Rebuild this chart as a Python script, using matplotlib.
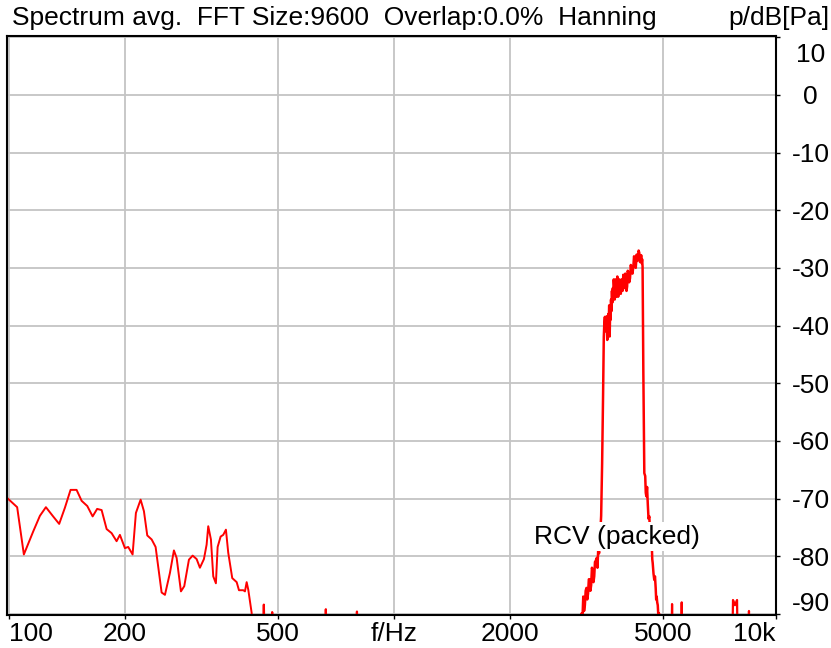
import matplotlib.pyplot as plt
import matplotlib.transforms as mtransforms

# low frequency part of the spectrum (Hz, dB)
low_freq = [97, 98.9, 105.0, 109.3, 115.6, 120.3, 124.7, 130.2, 135.0, 139.7, 144.5,
            149.8, 154.4, 159.7, 164.9, 169.4, 174.0, 179.3, 184.7, 190.3, 194.1,
            200.0, 204.0, 209.4, 213.6, 219.7, 224.1, 228.6, 234.7, 240.3, 249.1,
            254.1, 261.8, 268.1, 272.5, 279.6, 285.2, 293.3, 299.9, 307.1, 313.2,
            320.8, 326.0, 329.2, 334.5, 339.2, 344.6, 348.2, 354.5, 360.1, 365.9,
            371.0, 380.0, 390.2, 395.6, 405.9, 410.0, 414.2, 418.2, 426.7, 432]
low_db = [-66.0, -69.9, -71.5, -79.7, -75.7, -73.0, -71.5, -73.1, -74.4, -71.6, -68.5,
          -68.5, -70.4, -71.3, -73.1, -71.8, -72.0, -75.3, -76.0, -77.4, -76.3,
          -78.6, -78.4, -79.7, -72.5, -70.2, -72.2, -76.4, -77.1, -78.4, -86.3,
          -86.7, -82.9, -79.0, -80.3, -86.1, -85.2, -80.6, -79.9, -80.5, -82.0,
          -80.5, -78.0, -74.8, -77.1, -83.5, -84.7, -78.4, -76.6, -76.3, -75.4,
          -79.4, -83.8, -84.5, -85.9, -85.9, -86.1, -84.5, -85.8, -89.8, -95.0]

# small spikes poking above the floor
spike_freq = [457, 459, 461, 480, 482.5, 485, 662, 665, 668, 798, 801, 804,
              5250, 5272, 5295, 5560, 5585, 5610, 7560, 7590, 7680, 7776, 7800,
              8320, 8350, 8380]
spike_db = [-95, -88.4, -95, -95, -89.7, -95, -95, -89.2, -95, -95, -89.6, -95,
            -95, -88.3, -95, -95, -88.0, -95, -95, -87.6, -88.5, -87.6, -95,
            -95, -89.5, -95]

# the transmitted band
band_freq = [3000, 3071, 3085, 3100, 3115, 3130, 3145, 3160, 3175, 3190, 3205, 3220,
             3235, 3250, 3265, 3280, 3295, 3310, 3325, 3340, 3360, 3375, 3390, 3408,
             3426, 3450, 3470, 3490, 3505, 3516, 3528, 3540, 3553, 3566, 3578, 3590,
             3600, 3610, 3620, 3630, 3640, 3650, 3660, 3670, 3680, 3690, 3700, 3710,
             3720, 3730, 3740, 3750, 3760, 3770, 3780, 3790, 3800, 3810, 3820, 3830,
             3846, 3863, 3880, 3900, 3920, 3939, 3955, 3970, 3985, 4000, 4015, 4030,
             4045, 4060, 4080, 4100, 4120, 4140, 4160, 4182, 4200, 4220, 4243, 4266,
             4283, 4300, 4317, 4334, 4352, 4370, 4383, 4396, 4408, 4420, 4440, 4466,
             4490, 4505, 4520, 4540, 4560, 4580, 4602, 4620, 4640, 4655, 4670, 4683,
             4696, 4718, 4740, 4760, 4780, 4794, 4808, 4824, 4840, 4858, 4876, 4900]
band_db = [-95, -89.9, -91.0, -87.0, -89.5, -88.5, -86.0, -85.5, -87.5, -86.5, -84.0, -84.0,
           -86.0, -85.0, -82.0, -82.5, -84.5, -83.5, -81.0, -80.8, -80.3, -82.0, -78.8, -79.5,
           -77.1, -73.0, -64.0, -52.0, -42.0, -39.6, -38.5, -41.0, -39.5, -38.4, -42.5, -40.5,
           -38.0, -39.2, -36.5, -41.9, -38.0, -39.0, -35.5, -37.5, -34.0, -36.0, -33.5, -34.9,
           -32.0, -33.2, -35.5, -35.0, -32.0, -32.8, -35.0, -34.5, -31.5, -32.5, -35.0, -34.0,
           -32.0, -33.5, -34.5, -32.0, -34.0, -31.2, -33.0, -33.5, -31.0, -32.0, -34.0, -33.2,
           -30.5, -31.0, -32.5, -31.8, -29.5, -30.5, -31.0, -29.8, -28.0, -28.5, -30.0, -27.7,
           -28.8, -28.6, -27.0, -27.4, -29.0, -28.8, -27.8, -29.2, -28.5, -29.8, -48.0, -65.6,
           -66.1, -69.0, -69.6, -68.0, -71.0, -73.5, -73.1, -76.0, -75.4, -77.0, -78.0, -80.5,
           -81.2, -83.0, -84.1, -83.5, -85.5, -87.5, -87.0, -88.0, -88.5, -90.5, -89.9, -95]

x_ticks = [100, 200, 500, 1000, 2000, 5000, 9800]
x_labels = ["100", "200", "500", "f/Hz", "2000", "5000", "10k"]
y_ticks = [10, 0, -10, -20, -30, -40, -50, -60, -70, -80, -90]

plt.rcParams['font.family'] = ['Liberation Sans', 'DejaVu Sans']
fs = 19

fig = plt.figure(figsize=(8.31, 6.48), dpi=100)
ax = fig.add_axes([0.0088, 0.0509, 0.9247, 0.8935])

ax.plot(low_freq, low_db, color='#ff0000', lw=1.4)
ax.plot(spike_freq, spike_db, color='#ff0000', lw=1.6)
ax.plot(band_freq, band_db, color='#ff0000', lw=1.8)

ax.set_xscale('log')
ax.set_xlim(99, 9800)
ax.set_ylim(-90.2, 10.2)

ax.set_xticks(x_ticks)
ax.set_xticklabels(x_labels)
ax.minorticks_off()
ax.set_yticks(y_ticks)
ax.set_yticklabels([str(v) for v in y_ticks])
ax.yaxis.tick_right()
ax.grid(True, color='#c4c4c4', lw=1.3)
ax.set_axisbelow(True)

for s in ax.spines.values():
    s.set_linewidth(1.5)
    s.set_color('black')

ax.tick_params(axis='x', direction='out', length=3, width=1, pad=2, labelsize=fs)
ax.tick_params(axis='y', direction='out', length=3, width=1, pad=22, labelsize=fs)
for lab in ax.get_yticklabels():
    lab.set_horizontalalignment('center')

xl = ax.get_xticklabels()
xl[0].set_horizontalalignment('left')
xl[-1].set_horizontalalignment('right')
yl = ax.get_yticklabels()
yl[0].set_transform(yl[0].get_transform() + mtransforms.ScaledTranslation(0, -0.15, fig.dpi_scale_trans))
yl[-1].set_transform(yl[-1].get_transform() + mtransforms.ScaledTranslation(0, 0.12, fig.dpi_scale_trans))

ax.text(3785, -76.6, "RCV (packed)", ha='center', va='center', fontsize=fs,
        bbox=dict(facecolor='white', edgecolor='none', pad=2))

fig.text(12 / 831, 1 - 18 / 648, "Spectrum avg.  FFT Size:9600  Overlap:0.0%  Hanning",
         ha='left', va='center', fontsize=fs)
fig.text(829 / 831, 1 - 18 / 648, "p/dB[Pa]", ha='right', va='center', fontsize=fs)

fig.savefig("out.png", dpi=100)
